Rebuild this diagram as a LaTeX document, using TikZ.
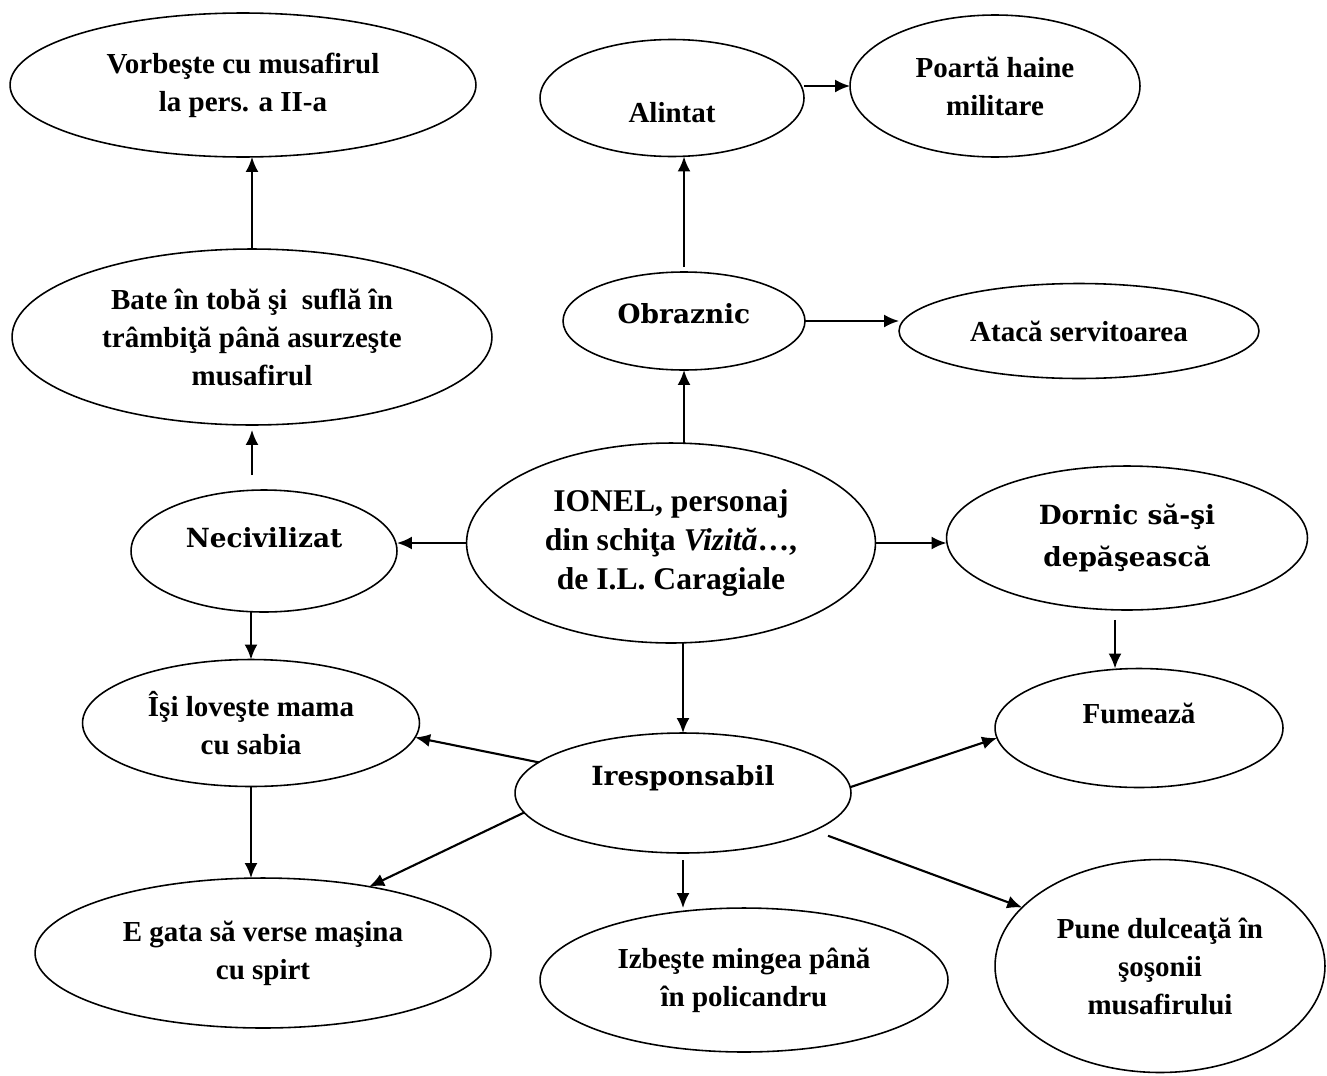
\documentclass[tikz,border=0pt]{standalone}
\usepackage{fontspec}
\setmainfont{Liberation Serif}
\newfontfamily\cambria{DejaVu Serif}
\usetikzlibrary{shapes.geometric, arrows.meta, calc}

\tikzset{
    >={Latex[length=0.3cm, width=0.26cm]},
    % Shapes
    bubble/.style 2 args={ellipse, draw, line width=0.9pt, inner sep=0pt, outer sep=0pt,
                 minimum width=#1, minimum height=#2, align=center,
                 font=\bfseries\fontsize{16.5}{21.6}\selectfont},
    kw/.style={font=\cambria\bfseries\fontsize{15}{24}\selectfont},
    lift/.style={text depth=#1},
    sink/.style={text height=#1},
    % Flow
    flow/.style={->, line width=1.2pt}
}

\begin{document}
\begin{tikzpicture}[x=0.02cm, y=-0.02cm]
\useasboundingbox (0,0) rectangle (1327,1075);

% centre
\node[bubble={8.18cm}{4cm}, font=\bfseries\fontsize{18}{22}\selectfont] (ionel) at (671,543)
    {IONEL, personaj\\din schiţa \textit{Vizită}…,\\de I.L. Caragiale};

% left branch
\node[bubble={9.32cm}{2.88cm}] (vorb) at (243,85) {Vorbeşte cu musafirul\\la pers. a II-a};
\node[bubble={9.6cm}{3.52cm}] (bate) at (252,337) {Bate în tobă şi\ \ suflă în\\trâmbiţă până asurzeşte\\musafirul};
\node[bubble={5.32cm}{2.44cm}, kw, lift=15pt] (neciv) at (264,551) {Necivilizat};

% upper branch
\node[bubble={5.28cm}{2.34cm}, sink=28pt] (ali) at (672,98) {Alintat};
\node[bubble={5.8cm}{2.84cm}] (poarta) at (995,86) {Poartă haine\\militare};
\node[bubble={4.84cm}{1.96cm}, kw, lift=9pt] (obr) at (684,321) {Obraznic};
\node[bubble={7.2cm}{1.9cm}] (atac) at (1079,331) {Atacă servitoarea};

% right branch
\node[bubble={7.22cm}{2.88cm}, kw] (dornic) at (1127,538) {Dornic să-şi\\depăşească};
\node[bubble={5.76cm}{2.38cm}, lift=17pt] (fum) at (1139,728) {Fumează};

% lower branch
\node[bubble={6.74cm}{2.54cm}] (isi) at (251,723) {Îşi loveşte mama\\cu sabia};
\node[bubble={6.72cm}{2.4cm}, kw, lift=20pt] (iresp) at (683,793) {Iresponsabil};
\node[bubble={9.12cm}{3cm}] (egata) at (263,953) {E gata să verse maşina\\cu spirt};
\node[bubble={8.16cm}{2.88cm}] (izb) at (744,980) {Izbeşte mingea până\\în policandru};
\node[bubble={6.6cm}{4.26cm}] (pune) at (1160,966) {Pune dulceaţă în\\şoşonii\\musafirului};

\draw[flow] (bate.north) -- (bate.north |- vorb.south);
\draw[flow, shorten <=0.3cm, shorten >=0.1cm] (bate.south |- neciv.north) -- (bate.south);
\draw[flow] (ionel.west) -- (ionel.west -| neciv.east);
\draw[flow] (isi.north |- neciv.south) -- (isi.north);
\draw[flow] (isi.south) -- (isi.south |- egata.north);

\draw[flow] (ionel.north -| obr.south) -- (obr.south);
\draw[flow, shorten <=0.1cm] (obr.north) -- (obr.north |- ali.south);
\draw[flow] (ali.east |- poarta.west) -- (poarta.west);
\draw[flow] (obr.east) -- (obr.east -| atac.west);

\draw[flow] (ionel.east) -- (ionel.east -| dornic.west);
\draw[flow, shorten <=0.2cm] ([xshift=-0.24cm]dornic.south) -- ([xshift=-0.24cm]dornic.south |- fum.north);

\draw[flow] (ionel.south -| iresp.north) -- (iresp.north);
\draw[flow] (iresp.168) -- (isi.-5);
\draw[flow] (iresp.187) -- (egata.32);
\draw[flow, shorten <=0.14cm] (iresp.south) -- (iresp.south |- izb.north);
\draw[flow] (iresp.2) -- (fum.184);
\draw[flow, shorten <=0.3cm] (iresp.-16) -- (pune.157);

\end{tikzpicture}
\end{document}
